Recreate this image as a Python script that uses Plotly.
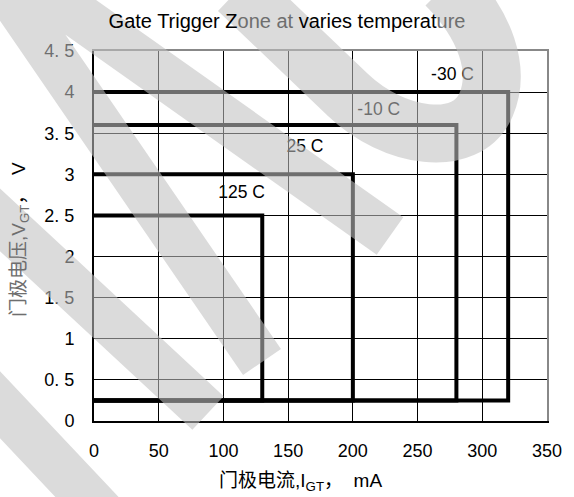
import plotly.graph_objects as go

# ---------------- data ----------------
temps = ["-30 C", "-10 C", "25 C", "125 C"]
igt_max = [320, 280, 200, 130]          # mA, right edge of each trigger zone
vgt_max = [4.0, 3.6, 3.0, 2.5]          # V, top edge of each trigger zone
vgt_min = [0.25, 0.25, 0.25, 0.25]      # V, bottom edge of each trigger zone

x_ticks = [0, 50, 100, 150, 200, 250, 300, 350]
y_ticks = [0, 0.5, 1, 1.5, 2, 2.5, 3, 3.5, 4, 4.5]
y_ticktext = ["0", "0. 5", "1", "1. 5", "2", "2. 5", "3", "3. 5", "4", "4. 5"]

# label anchor positions (layout, in data units)
label_x = [277, 220, 163, 114]
label_y = [4.2, 3.78, 3.32, 2.77]

# ---------------- layout geometry ----------------
W, H = 574, 497
ML, MR, MT, MB = 94, 27, 51, 76
PW, PH = W - ML - MR, H - MT - MB
FONT = "Liberation Sans, Arial, sans-serif"
CJK = "Liberation Sans, Noto Sans CJK SC, sans-serif"
GRAY_TXT = "#6e6e6e"

fig = go.Figure()
for t, xm, vt, vb in zip(temps, igt_max, vgt_max, vgt_min):
    fig.add_trace(go.Scatter(
        x=[0, xm, xm, 0], y=[vt, vt, vb, vb], mode="lines", name=t,
        line=dict(color="black", width=4), showlegend=False, hoverinfo="skip"))

fig.add_trace(go.Scatter(
    x=label_x, y=label_y, mode="text", text=temps,
    textfont=dict(family=FONT, size=17.5, color="black"),
    showlegend=False, hoverinfo="skip", cliponaxis=False))

# invisible trace for the mirrored (top / right) frame axes
fig.add_trace(go.Scatter(x=[None], y=[None], xaxis="x2", yaxis="y2",
                         showlegend=False, hoverinfo="skip"))

# ---------------- watermark (decoration, pixel geometry) ----------------
def P(x, y):
    return f"{(x - ML) / PW:.4f},{(H - MB - y) / PH:.4f}"

WM_COLOR = "rgb(193,193,193)"
WM_OPACITY = 0.57

bands = [
    [(0, -20), (262, 362)],      # steep band from the top-left corner
    [(-30, 192), (208, 413)],    # band from the left edge
    [(-30, 373), (120, 532)],    # bottom-left band
    [(35, -15), (390, 236)],     # shallow band from the top-left
]
path = ""
for (x0, y0), (x1, y1) in bands:
    path += f"M{P(x0, y0)} L{P(x1, y1)} "
fig.add_shape(type="path", path=path, xref="paper", yref="paper",
              line=dict(color=WM_COLOR, width=46),
              fillcolor="rgba(0,0,0,0)", opacity=WM_OPACITY, layer="above")

# hook / U shaped stroke on the right
hook = (f"M{P(238, -10)} L{P(348, 95)} "
        f"C{P(393, 138)} {P(466, 150)} {P(486, 105)} "
        f"C{P(501, 70)} {P(486, 25)} {P(446, -15)}")
fig.add_shape(type="path", path=hook, xref="paper", yref="paper",
              line=dict(color=WM_COLOR, width=58),
              fillcolor="rgba(0,0,0,0)", opacity=WM_OPACITY, layer="above")

axis_common = dict(showgrid=True, gridcolor="black", gridwidth=1,
                   showline=True, linecolor="black", linewidth=2,
                   zeroline=False, ticks="", fixedrange=True,
                   tickfont=dict(family=FONT, size=18, color="black"))

fig.update_layout(
    width=W, height=H,
    margin=dict(l=ML, r=MR, t=MT, b=MB),
    paper_bgcolor="white", plot_bgcolor="white",
    title=dict(
        text=("Gate Trigger Z<span style='color:%s'>one at</span> varies temperat"
              "<span style='color:%s'>ure</span>") % (GRAY_TXT, GRAY_TXT),
        x=0.5, xanchor="center", y=0.958, yanchor="middle",
        font=dict(family=FONT, size=20, color="black")),
    xaxis=dict(range=[0, 350], tickvals=x_ticks, ticklabelstandoff=12,
               **axis_common),
    yaxis=dict(range=[0, 4.5], tickvals=y_ticks, ticktext=y_ticktext,
               ticklabelstandoff=14, **axis_common),
    xaxis2=dict(range=[0, 350], overlaying="x", anchor="y2", side="top",
                showline=True, linecolor="#888888", linewidth=2,
                showgrid=False, showticklabels=False, ticks="", zeroline=False,
                fixedrange=True),
    yaxis2=dict(range=[0, 4.5], overlaying="y", anchor="x2", side="right",
                showline=True, linecolor="#888888", linewidth=2,
                showgrid=False, showticklabels=False, ticks="", zeroline=False,
                fixedrange=True),
    annotations=[
        dict(text="门极电流,I<sub>GT</sub>，  mA", xref="paper", yref="paper",
             x=(300 - ML) / PW, y=(H - MB - 482) / PH,
             xanchor="center", yanchor="middle", showarrow=False,
             font=dict(family=CJK, size=19, color="black")),
        dict(text=("<span style='color:%s'>门极电压,V<sub>GT</sub></span>，  V"
                   % GRAY_TXT),
             xref="paper", yref="paper",
             x=(20 - ML) / PW, y=(H - MB - 240) / PH, textangle=-90,
             xanchor="center", yanchor="middle", showarrow=False,
             font=dict(family=CJK, size=19, color="black")),
    ],
)

fig.write_html("out.html",
               config={"displayModeBar": False, "staticPlot": True},
               post_script="document.body.style.margin='0';"
                           "document.body.style.overflow='hidden';")
